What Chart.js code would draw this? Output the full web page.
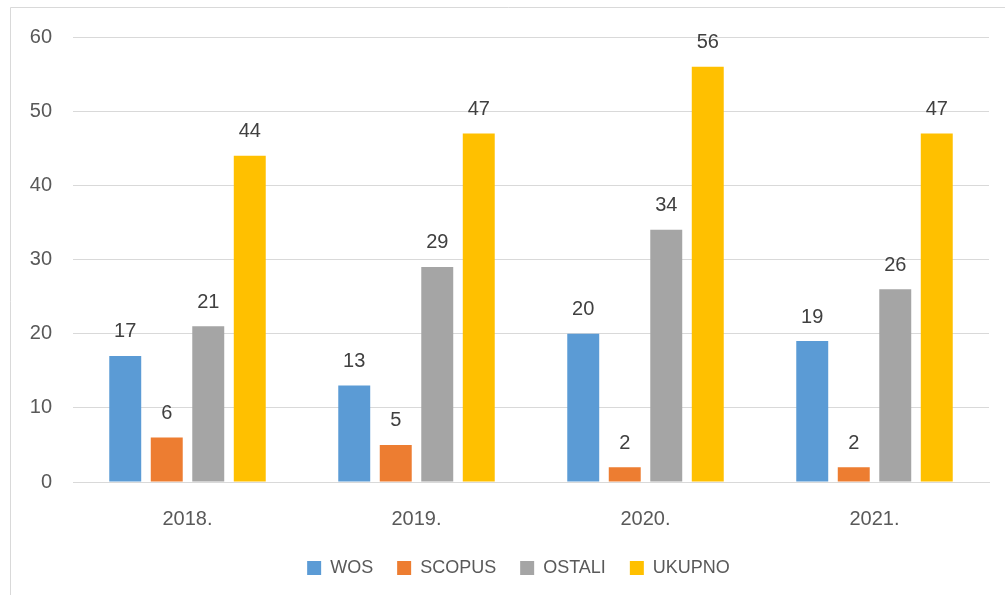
<!DOCTYPE html>
<html>
<head>
<meta charset="utf-8">
<script src="https://cdn.jsdelivr.net/npm/chart.js@4/dist/chart.umd.min.js"></script>
<style>
html,body{margin:0;padding:0;background:#fff;}
#wrap{position:relative;width:1005px;height:595px;}
</style>
</head>
<body>
<div id="wrap"><canvas id="c" width="1005" height="595"></canvas></div>
<script>
const categories = ["2018.", "2019.", "2020.", "2021."];
const seriesNames = ["WOS", "SCOPUS", "OSTALI", "UKUPNO"];
const wos = [17, 13, 20, 19];
const scopus = [6, 5, 2, 2];
const ostali = [21, 29, 34, 26];
const ukupno = [44, 47, 56, 47];
const yTicks = [0, 10, 20, 30, 40, 50, 60];
const colors = ["#5B9BD5", "#ED7D31", "#A5A5A5", "#FFC000"];

const FONT = "'Liberation Sans', Arial, sans-serif";

const frame = {
  id: 'frame',
  beforeDraw(chart) {
    const ctx = chart.ctx;
    ctx.save();
    ctx.fillStyle = '#fff';
    ctx.fillRect(0, 0, chart.width, chart.height);
    ctx.strokeStyle = '#D9D9D9';
    ctx.lineWidth = 1;
    ctx.beginPath();
    ctx.moveTo(10.5, chart.height + 5);
    ctx.lineTo(10.5, 7.5);
    ctx.lineTo(chart.width + 5, 7.5);
    ctx.stroke();
    ctx.restore();
  }
};

const legendShift = {
  id: 'legendShift',
  afterLayout(chart) {
    const l = chart.legend;
    if (l) {
      l.left += 24;
      l.right += 24;
      if (l.adjustHitBoxes) l.adjustHitBoxes();
    }
  }
};

const valueLabels = {
  id: 'valueLabels',
  afterDatasetsDraw(chart) {
    const ctx = chart.ctx;
    ctx.save();
    ctx.font = "20px " + FONT;
    ctx.fillStyle = '#404040';
    ctx.textAlign = 'center';
    ctx.textBaseline = 'middle';
    chart.data.datasets.forEach((ds, i) => {
      const meta = chart.getDatasetMeta(i);
      meta.data.forEach((bar, j) => {
        ctx.fillText(String(ds.data[j]), bar.x, bar.y - 24);
      });
    });
    ctx.restore();
  }
};

const seriesData = [wos, scopus, ostali, ukupno];

new Chart(document.getElementById('c'), {
  type: 'bar',
  data: {
    labels: categories,
    datasets: seriesNames.map((n, i) => ({
      label: n,
      data: seriesData[i],
      backgroundColor: colors[i],
      borderWidth: 0,
      categoryPercentage: 0.725,
      barPercentage: 0.77
    }))
  },
  options: {
    responsive: false,
    animation: false,
    devicePixelRatio: 1,
    layout: { padding: { left: 0, right: 16, top: 37, bottom: 8 } },
    plugins: {
      legend: {
        position: 'bottom',
        labels: {
          boxWidth: 14,
          boxHeight: 14,
          padding: 24,
          color: '#595959',
          font: { size: 18, family: FONT }
        }
      },
      tooltip: { enabled: false }
    },
    scales: {
      x: {
        grid: { display: false, drawTicks: false },
        border: { display: true, color: '#D9D9D9', width: 1 },
        ticks: { color: '#595959', padding: 25, font: { size: 20, family: FONT } },
        afterFit(s) { s.height = 53; }
      },
      y: {
        min: 0,
        max: 60,
        afterBuildTicks(s) { s.ticks = yTicks.map(v => ({ value: v })); },
        grid: { color: '#D9D9D9', lineWidth: 1, drawTicks: false },
        border: { display: false },
        ticks: { color: '#595959', padding: 21, font: { size: 20, family: FONT } },
        afterFit(s) { s.width = 73; }
      }
    }
  },
  plugins: [frame, legendShift, valueLabels]
});
</script>
</body>
</html>
